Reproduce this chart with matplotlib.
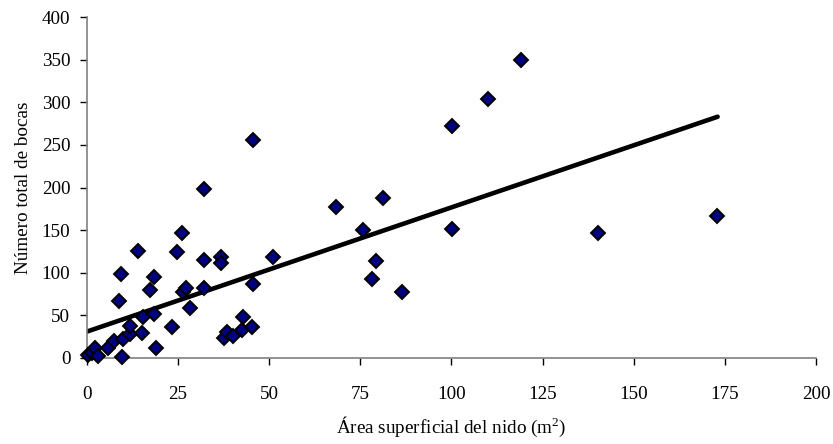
import matplotlib
matplotlib.use("Agg")
import matplotlib.pyplot as plt
import numpy as np

# nest surface area (m2) vs total number of openings
area = [0.3, 1.3, 2.2, 3.0, 5.7, 7.5, 8.9, 9.3, 9.5, 10.0, 11.8, 11.8, 14.1,
        15.2, 15.4, 17.3, 18.4, 18.4, 18.9, 23.2, 24.6, 26.1, 26.4, 27.2, 28.3,
        32.0, 32.0, 32.2, 36.8, 36.8, 37.6, 38.3, 40.1, 42.6, 42.9, 45.2, 45.5,
        45.6, 51.1, 68.2, 75.6, 78.2, 79.2, 81.1, 86.3, 100.1, 100.1, 110.1,
        119.2, 140.1, 172.8]
bocas = [3, 6, 12, 2, 12, 20, 67, 99, 1, 22, 28, 37, 126,
         29, 48, 80, 95, 52, 12, 36, 124, 147, 78, 82, 59,
         198, 115, 82, 118, 111, 23, 30, 26, 33, 48, 36, 87,
         256, 119, 177, 150, 93, 114, 188, 78, 272, 151, 304,
         350, 147, 166]

# linear trend line end points
trend_x = [0, 173]
trend_y = [31, 283]

xticks = [0, 25, 50, 75, 100, 125, 150, 175, 200]
yticks = [0, 50, 100, 150, 200, 250, 300, 350, 400]

plt.rcParams["font.family"] = ["Liberation Serif", "DejaVu Serif"]
plt.rcParams["mathtext.fontset"] = "custom"
plt.rcParams["mathtext.rm"] = "Liberation Serif"
plt.rcParams["mathtext.it"] = "Liberation Serif:italic"

fs = 13.8

fig = plt.figure(figsize=(8.33, 4.44), dpi=100)
ax = fig.add_axes([0.1044, 0.1937, 0.8752, 0.768])

ax.plot(trend_x, trend_y, color="black", lw=3.3, solid_capstyle="round", zorder=2)
ax.plot(area, bocas, linestyle="none", marker="D", markersize=6.8,
        markerfacecolor="#000080", markeredgecolor="black", markeredgewidth=1.4,
        zorder=3, clip_on=False)

ax.set_xlim(0, 200)
ax.set_ylim(0, 400)
ax.set_xticks(xticks)
ax.set_yticks(yticks)

for side in ("top", "right"):
    ax.spines[side].set_visible(False)
for side in ("left", "bottom"):
    ax.spines[side].set_color("#808080")
    ax.spines[side].set_linewidth(1.2)

ax.tick_params(direction="out", length=5, width=1, color="black",
               labelsize=fs)
ax.tick_params(axis="y", pad=7)
ax.tick_params(axis="x", pad=15)

ax.set_xlabel(r"Área superficial del nido (m$^2$)", fontsize=fs, labelpad=9)
ax.set_ylabel("Número total de bocas", fontsize=fs, labelpad=7)

fig.savefig("out.png", dpi=100)
